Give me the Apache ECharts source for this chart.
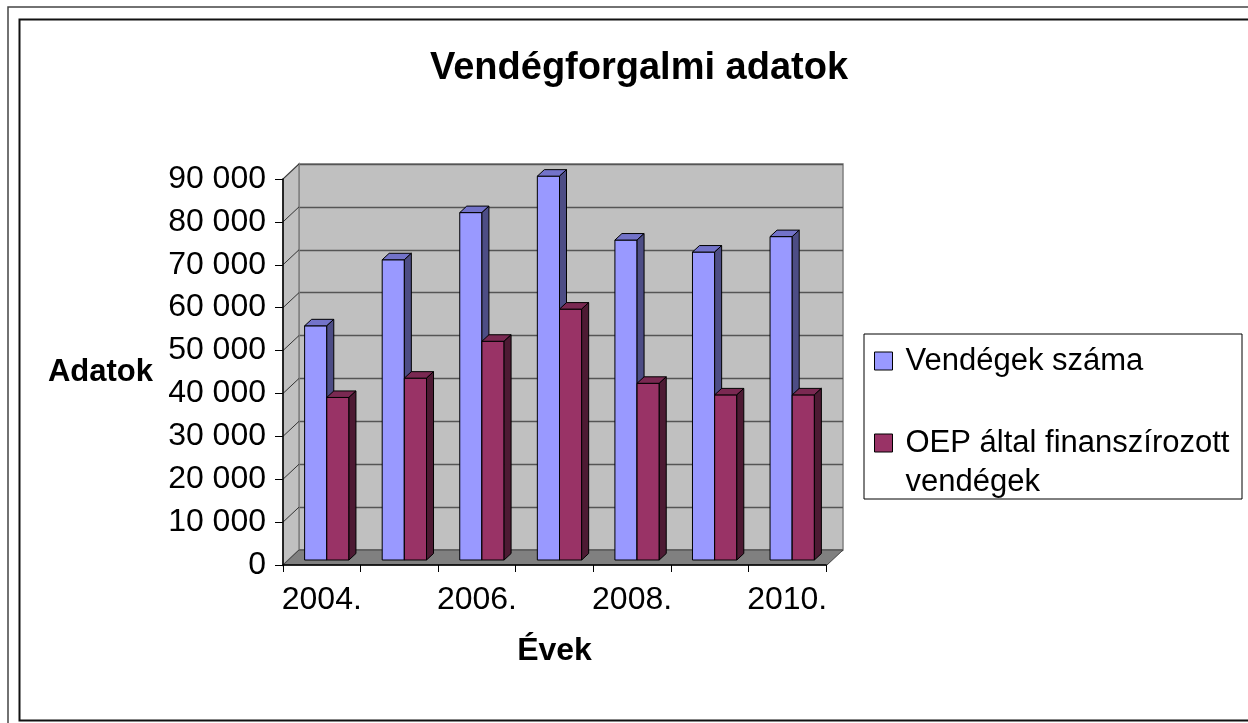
<!doctype html>
<html lang="hu">
<head>
<meta charset="UTF-8">
<title>Vendégforgalmi adatok</title>
<style>
	html, body { margin: 0; padding: 0; background: #fff; }
	#main { width: 1248px; height: 723px; }
</style>
</head>
<body>
<div id="main"></div>
<script src="https://cdn.jsdelivr.net/npm/echarts@6/dist/echarts.min.js"></script>
<script type="text/javascript">
	// adatok
	var years = ['2004.', '2005.', '2006.', '2007.', '2008.', '2009.', '2010.'];
	var vendegek = [54600, 70000, 81000, 89500, 74600, 71800, 75400];
	var oep = [37900, 42400, 51000, 58500, 41200, 38500, 38500];
	var yTicks = [0, 10000, 20000, 30000, 40000, 50000, 60000, 70000, 80000, 90000];
	var yLabels = ['0', '10 000', '20 000', '30 000', '40 000', '50 000', '60 000', '70 000', '80 000', '90 000'];

	var NAME1 = 'Vendégek száma';
	var NAME2 = 'OEP által finanszírozott vendégek';
	var FONT = '"Liberation Sans", Arial, sans-serif';

	// a hátsó fal és az oszlopok eltolása (álló 3D hatás)
	var WALL_DX = 16, WALL_DY = 15;
	var BAR_DX = 7, BAR_DY = 6.5;

	var myChart = echarts.init(document.getElementById('main'));

	function barRenderer(slot, front, top, side) {
		return function (params, api) {
			var i = api.value(0), v = api.value(1);
			var base = api.coord([i, 0]);
			var peak = api.coord([i, v]);
			var w = api.size([1, 0])[0] / 3.5;
			var x0 = base[0] - w + slot * w;
			var line = { stroke: '#000', lineWidth: 1 };
			return {
				type: 'group',
				children: [
					{ type: 'rect', shape: { x: x0, y: peak[1], width: w, height: base[1] - peak[1] },
						style: Object.assign({ fill: front }, line) },
					{ type: 'polygon', shape: { points: [[x0, peak[1]], [x0 + BAR_DX, peak[1] - BAR_DY], [x0 + w + BAR_DX, peak[1] - BAR_DY], [x0 + w, peak[1]]] },
						style: Object.assign({ fill: top }, line) },
					{ type: 'polygon', shape: { points: [[x0 + w, peak[1]], [x0 + w + BAR_DX, peak[1] - BAR_DY], [x0 + w + BAR_DX, base[1] - BAR_DY], [x0 + w, base[1]]] },
						style: Object.assign({ fill: side }, line) }
				]
			};
		};
	}

	function renderWalls(params, api) {
		var cs = params.coordSys;
		var left = cs.x, right = cs.x + cs.width, topY = cs.y, bottom = cs.y + cs.height;
		var children = [];
		// bal oldalfal
		children.push({ type: 'polygon',
			shape: { points: [[left - WALL_DX, topY + WALL_DY], [left, topY], [left, bottom], [left - WALL_DX, bottom + WALL_DY]] },
			style: { fill: '#c0c0c0', stroke: '#808080', lineWidth: 1.5 } });
		yTicks.forEach(function (t) {
			if (t === 0) return;
			var y = api.coord([0, t])[1];
			children.push({ type: 'line', shape: { x1: left - WALL_DX, y1: y + WALL_DY, x2: left, y2: y },
				style: { stroke: '#333', lineWidth: 1 } });
		});
		// padló
		children.push({ type: 'polygon',
			shape: { points: [[left - WALL_DX, bottom + WALL_DY], [left, bottom], [right, bottom], [right - WALL_DX, bottom + WALL_DY]] },
			style: { fill: '#808080', stroke: '#444', lineWidth: 1 } });
		return { type: 'group', children: children };
	}

	function pairs(arr) {
		return arr.map(function (v, i) { return [i, v]; });
	}

	var axisText = { color: '#000', fontSize: 32, fontFamily: FONT };

	option = {
		backgroundColor: '#fff',
		animation: false,
		title: {
			text: 'Vendégforgalmi adatok',
			left: 634,
			textAlign: 'center',
			top: 45,
			textStyle: { color: '#000', fontSize: 38, fontWeight: 'bold', fontFamily: FONT }
		},
		legend: {
			data: [NAME1, NAME2],
			orient: 'vertical',
			left: 874,
			top: 341.5,
			padding: 0,
			itemGap: 4,
			itemWidth: 18,
			itemHeight: 18,
			icon: 'rect',
			selectedMode: false,
			itemStyle: { borderColor: '#000', borderWidth: 1 },
			formatter: function (name) {
				return name === NAME2 ? '\nOEP által finanszírozott\nvendégek' : name;
			},
			textStyle: { color: '#000', fontSize: 31, lineHeight: 39, fontFamily: FONT, padding: [0, 0, 0, 8] }
		},
		grid: [
			// front sík: tengelyek
			{ left: 283, top: 179, width: 543, height: 386 },
			// hátsó fal
			{ left: 299, top: 164, width: 544, height: 386, show: true, backgroundColor: '#c0c0c0', borderColor: '#808080', borderWidth: 1.5 },
			// oszlopok síkja
			{ left: 288, top: 174, width: 543, height: 386 }
		],
		xAxis: [
			{ gridIndex: 0, type: 'category', data: years, boundaryGap: true, z: 10,
				name: 'Évek', nameLocation: 'middle', nameGap: 70,
				nameTextStyle: { color: '#000', fontSize: 32, fontWeight: 'bold', fontFamily: FONT },
				axisLine: { lineStyle: { color: '#000', width: 1.5 } },
				axisTick: { show: true, interval: 0, length: 7, lineStyle: { color: '#000' } },
				axisLabel: Object.assign({ interval: 1, margin: 19 }, axisText),
				splitLine: { show: false } },
			{ gridIndex: 1, type: 'category', data: years, show: false },
			{ gridIndex: 2, type: 'category', data: years, show: false }
		],
		yAxis: [
			{ gridIndex: 0, type: 'value', min: 0, max: 90000, interval: 10000, z: 10,
				name: 'Adatok', nameLocation: 'middle', nameGap: 130, nameRotate: 0,
				nameTextStyle: { color: '#000', fontSize: 31, fontWeight: 'bold', fontFamily: FONT },
				axisLine: { show: true, lineStyle: { color: '#000', width: 1.5 } },
				axisTick: { show: true, length: 8, lineStyle: { color: '#000' } },
				axisLabel: Object.assign({ margin: 17, formatter: function (v) { return yLabels[yTicks.indexOf(v)]; } }, axisText),
				splitLine: { show: false } },
			{ gridIndex: 1, type: 'value', min: 0, max: 90000, interval: 10000,
				axisLine: { show: false }, axisTick: { show: false }, axisLabel: { show: false },
				splitLine: { show: true, lineStyle: { color: '#555', width: 1.3 } } },
			{ gridIndex: 2, type: 'value', min: 0, max: 90000, interval: 10000, show: false,
				splitLine: { show: false } }
		],
		series: [
			{ type: 'custom', name: 'falak', xAxisIndex: 1, yAxisIndex: 1, z: 1, silent: true, clip: false,
				data: [[0, 0]], renderItem: renderWalls },
			{ type: 'custom', name: NAME1, xAxisIndex: 2, yAxisIndex: 2, z: 3, clip: false,
				itemStyle: { color: '#9999ff' },
				encode: { x: 0, y: 1 },
				data: pairs(vendegek), renderItem: barRenderer(0, '#9999ff', '#7373c9', '#4d4d85') },
			{ type: 'custom', name: NAME2, xAxisIndex: 2, yAxisIndex: 2, z: 4, clip: false,
				itemStyle: { color: '#993366' },
				encode: { x: 0, y: 1 },
				data: pairs(oep), renderItem: barRenderer(1, '#993366', '#7a2952', '#4d1a33') }
		],
		graphic: [
			{ type: 'rect', shape: { x: 8, y: 7, width: 1250, height: 720 }, style: { fill: 'none', stroke: '#444', lineWidth: 1.5 }, silent: true },
			{ type: 'rect', shape: { x: 19.5, y: 19.5, width: 1240, height: 701 }, style: { fill: 'none', stroke: '#111', lineWidth: 2 }, silent: true },
			{ type: 'rect', shape: { x: 864, y: 334, width: 378, height: 165 }, style: { fill: 'none', stroke: '#000', lineWidth: 1 }, silent: true }
		]
	};

	myChart.setOption(option);
</script>
</body>
</html>
